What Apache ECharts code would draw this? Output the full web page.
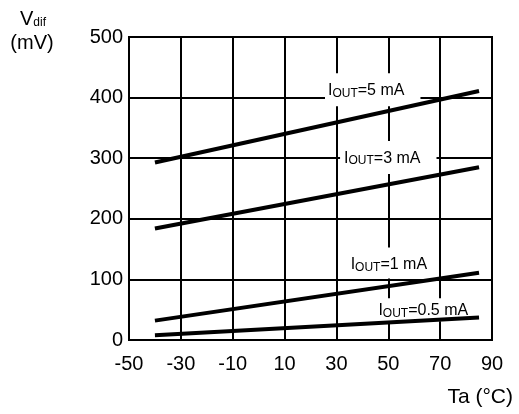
<!DOCTYPE html>
<html>
<head>
<meta charset="utf-8">
<script src="https://cdn.jsdelivr.net/npm/echarts@6/dist/echarts.min.js"></script>
<style>
  html, body { margin: 0; padding: 0; background: #fff; }
  #chart { width: 519px; height: 414px; }
</style>
</head>
<body>
<div id="chart"></div>
<script>
// temperature end points of each curve (°C)
const temps = [-40, 85]
// Vdif (mV) per output current
const iout5 = [293, 411]
const iout3 = [184, 285]
const iout1 = [32, 111]
const iout05 = [8, 37]
const curveNames = ['5 mA', '3 mA', '1 mA', '0.5 mA']

const font = 'Liberation Sans, Arial, sans-serif'
const richLabel = {
  m: { fontSize: 16, fontFamily: font, color: '#000', lineHeight: 17, verticalAlign: 'top' },
  s: { fontSize: 12, fontFamily: font, color: '#000', lineHeight: 13, verticalAlign: 'bottom' }
}

function pairs(ys) {
  return temps.map((t, i) => [t, ys[i]])
}

function curve(name, ys, labelAt, pad) {
  return {
    name: name,
    type: 'line',
    data: pairs(ys),
    symbol: 'none',
    lineStyle: { color: '#000', width: 4 },
    z: 3,
    markPoint: {
      symbol: 'rect',
      symbolSize: 0,
      silent: true,
      z: 2,
      label: {
        show: true,
        position: 'inside',
        formatter: '{m|I}{s|OUT}{m|=' + name + '}',
        backgroundColor: '#fff',
        padding: pad,
        lineHeight: 19,
        rich: richLabel
      },
      data: [{ coord: labelAt }]
    }
  }
}

const chart = echarts.init(document.getElementById('chart'))
chart.setOption({
  animation: false,
  backgroundColor: '#fff',
  grid: {
    left: 129,
    right: 27,
    top: 37,
    bottom: 74,
    show: true,
    borderColor: '#000',
    borderWidth: 2,
    z: 1
  },
  xAxis: {
    type: 'value',
    min: -50,
    max: 90,
    interval: 20,
    axisLine: { show: true, onZero: false, lineStyle: { color: '#000', width: 2 } },
    axisTick: { show: false },
    splitLine: { show: true, lineStyle: { color: '#000', width: 2 } },
    axisLabel: { color: '#000', fontSize: 20, fontFamily: font, margin: 14 }
  },
  yAxis: {
    type: 'value',
    min: 0,
    max: 500,
    interval: 100,
    axisLine: { show: true, onZero: false, lineStyle: { color: '#000', width: 2 } },
    axisTick: { show: false },
    splitLine: { show: true, lineStyle: { color: '#000', width: 2 } },
    axisLabel: { color: '#000', fontSize: 20, fontFamily: font, margin: 6 }
  },
  graphic: [
    {
      type: 'text',
      x: 33,
      y: 19,
      style: {
        text: '{m|V}{s|dif}',
        align: 'center',
        verticalAlign: 'middle',
        rich: {
          m: { fontSize: 20, fontFamily: font, color: '#000', lineHeight: 20, verticalAlign: 'top' },
          s: { fontSize: 12, fontFamily: font, color: '#000', lineHeight: 13, verticalAlign: 'bottom' }
        }
      }
    },
    {
      type: 'text',
      x: 32,
      y: 43,
      style: {
        text: '(mV)',
        fontSize: 20,
        fontFamily: font,
        fill: '#000',
        align: 'center',
        verticalAlign: 'middle'
      }
    },
    {
      type: 'text',
      x: 513,
      y: 397,
      style: {
        text: 'Ta (°C)',
        fontSize: 21,
        fontFamily: font,
        fill: '#000',
        align: 'right',
        verticalAlign: 'middle'
      }
    }
  ],
  series: [
    curve(curveNames[0], iout5, [44, 413], [9, 16, 7, 3]),
    curve(curveNames[1], iout3, [50, 301], [9, 16, 7, 4]),
    curve(curveNames[2], iout1, [51, 127], [9, 8, 5, 4]),
    curve(curveNames[3], iout05, [63.5, 50], [4, 4, 2, 4])
  ]
})
</script>
</body>
</html>
